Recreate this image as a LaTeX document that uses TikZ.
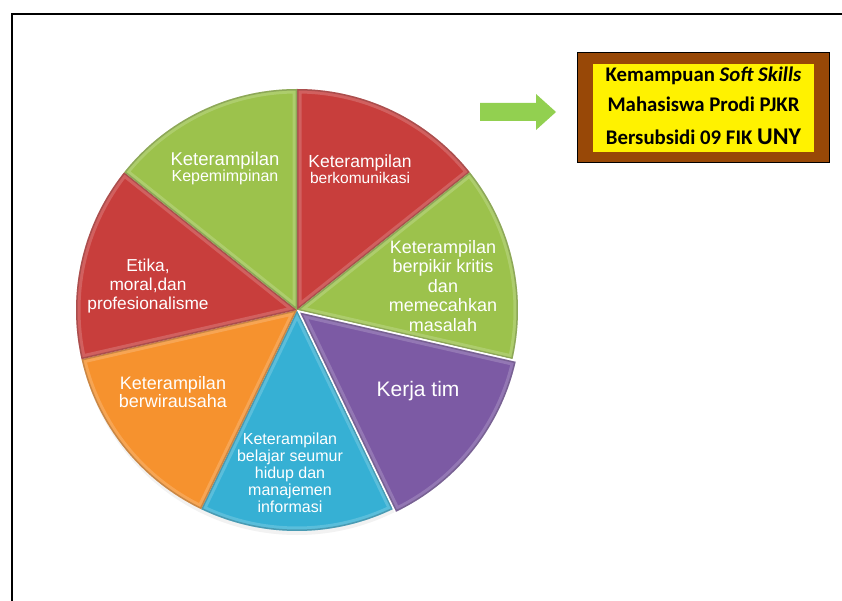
\documentclass[tikz,border=0pt]{standalone}
\usepackage{fontspec}
\setmainfont{Liberation Sans}
\newfontfamily\boxfont{Carlito}
\definecolor{pRed}{RGB}{200,62,60}
\definecolor{pGreen}{RGB}{156,194,76}
\definecolor{pPurple}{RGB}{124,90,164}
\definecolor{pBlue}{RGB}{54,176,212}
\definecolor{pOrange}{RGB}{246,146,46}
\definecolor{arrowGreen}{RGB}{146,208,80}
\definecolor{boxBrown}{RGB}{152,72,7}
\newcommand\pieslice[4]{%
  \fill[#1] (#4) -- ++(#2:221) arc[start angle=#2, end angle=#3, radius=221] -- cycle;
  \begin{scope}
    \clip (#4) -- ++(#2:221) arc[start angle=#2, end angle=#3, radius=221] -- cycle;
    \draw[white, opacity=0.18, line width=9pt, line join=round] (#4) -- ++(#2:221) arc[start angle=#2, end angle=#3, radius=221] -- cycle;
    \draw[black, opacity=0.18, line width=3pt, line join=round] (#4) -- ++(#2:221) arc[start angle=#2, end angle=#3, radius=221] -- cycle;
  \end{scope}
}
\begin{document}
\begin{tikzpicture}[x=1pt,y=-1pt,
  lbl/.style={text=white, align=center, inner sep=0pt},
  boxtxt/.style={anchor=base, inner sep=0pt, font=\boxfont\bfseries\fontsize{20.8}{24}\selectfont}]
\useasboundingbox (0,0) rectangle (842,601);
\fill[white] (0,0) rectangle (842,601);
\draw[line width=2pt] (12,601) -- (12,14) -- (842,14);

% pie
\begin{scope}[shift={(297,310)}, yscale=-1]
  \fill[black!20, opacity=0.25] (0,-6) circle[radius=219];
  \pieslice{pRed}{90}{38.5714}{0,0}
  \pieslice{pGreen}{38.5714}{-12.857}{0,0}
  \pieslice{pBlue}{-64.286}{-115.714}{0,0}
  \pieslice{pOrange}{-115.714}{-167.143}{0,0}
  \pieslice{pRed}{-167.143}{-218.571}{0,0}
  \pieslice{pGreen}{141.429}{90}{0,0}
  \fill[white] (0,0) -- (-12.857:224) arc[start angle=-12.857, end angle=-64.286, radius=224] -- cycle;
  \pieslice{pPurple}{-12.857}{-64.286}{3.2,-2.6}
\end{scope}

% labels
\node[lbl] (kep) at (225,168.5) {{\fontsize{18.5}{19}\selectfont Keterampilan}\\{\fontsize{16}{19}\selectfont Kepemimpinan}};
\node[lbl] (kom) at (360,169.5) {{\fontsize{17.5}{19}\selectfont Keterampilan}\\{\fontsize{15.5}{19}\selectfont berkomunikasi}};
\node[lbl, font=\fontsize{18}{19.5}\selectfont] (kri) at (443,286) {Keterampilan\\berpikir kritis\\dan\\memecahkan\\masalah};
\node[lbl, font=\fontsize{21}{24}\selectfont] (tim) at (418,391) {Kerja tim};
\node[lbl, font=\fontsize{16}{17}\selectfont] (bel) at (290,472.5) {Keterampilan\\belajar seumur\\hidup dan\\manajemen\\informasi};
\node[lbl, font=\fontsize{18}{18.5}\selectfont] (wir) at (173,392) {Keterampilan\\berwirausaha};
\node[lbl, font=\fontsize{17.3}{19}\selectfont] (eti) at (148,286) {Etika,\\moral,dan\\profesionalisme};

% arrow
\fill[arrowGreen] (480,103) -- (536,103) -- (536,94) -- (556,112) -- (536,130) -- (536,121) -- (480,121) -- cycle;

% title box
\node[draw=black, line width=1pt, fill=boxBrown, minimum width=252, minimum height=110, anchor=north west, inner sep=0pt] (outer) at (577,52) {};
\node[fill=yellow, minimum width=221, minimum height=88, anchor=north west, inner sep=0pt] (inner) at (593,64) {};
\node[boxtxt] (t1) at (703.5,82) {Kemampuan \textit{Soft Skills}};
\node[boxtxt] (t2) at (703.5,112) {Mahasiswa Prodi PJKR};
\node[boxtxt] (t3) at (703.5,145) {Bersubsidi 09 FIK {\fontsize{24}{28}\selectfont UNY}};
\end{tikzpicture}
\end{document}
